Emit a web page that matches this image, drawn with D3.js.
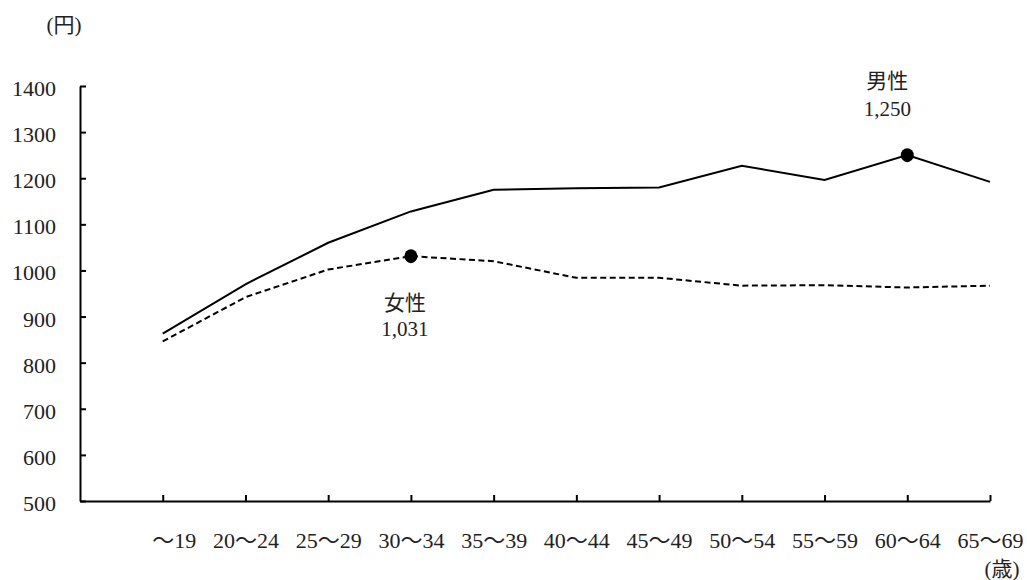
<!DOCTYPE html>
<html>
<head>
<meta charset="utf-8">
<script src="https://cdn.jsdelivr.net/npm/d3@7"></script>
<style>
  html, body { margin: 0; padding: 0; background: #fff; }
  svg text { font-family: "Liberation Serif", "Noto Sans CJK JP", serif; fill: #222; }
</style>
</head>
<body>
<svg id="chart" width="1027" height="580"></svg>
<script>
const categories = ["\u3000〜19", "20〜24", "25〜29", "30〜34", "35〜39", "40〜44", "45〜49", "50〜54", "55〜59", "60〜64", "65〜69"];
const maleValues   = [863, 970, 1060, 1128, 1175, 1178, 1180, 1227, 1196, 1250, 1192];
const femaleValues = [846, 942, 1002, 1031, 1020, 984, 984, 967, 968, 963, 967];
const yTicks = [500, 600, 700, 800, 900, 1000, 1100, 1200, 1300, 1400];
const yUnit = "(円)";
const xUnit = "(歳)";
const maleName = "男性", femaleName = "女性";
const maleLabel = "1,250", femaleLabel = "1,031";
const maleMarkIndex = 9, femaleMarkIndex = 3;

const svg = d3.select("#chart");
const fs = 21;
const tfs = 22;
const fontStack = '"Liberation Serif", "Noto Sans CJK JP", serif';

const x = d3.scalePoint().domain(categories).range([80, 990]).padding(0.5).align(1);
const y = d3.scaleLinear().domain([500, 1400]).range([501, 86]);

// Y axis
const yAxis = svg.append("g").attr("transform", "translate(80,0)")
  .call(d3.axisLeft(y).tickValues(yTicks).tickSize(-6).tickSizeOuter(0).tickPadding(24).tickFormat(d3.format("d")))
  .attr("font-family", fontStack).attr("font-size", tfs);
yAxis.selectAll("path, line").attr("stroke", "#000").attr("stroke-width", 2);
yAxis.selectAll("text").attr("font-size", tfs).attr("dy", "0.43em")
  .style("font-family", fontStack).attr("fill", "#222");

// X axis
const xAxis = svg.append("g").attr("transform", "translate(0,501)")
  .call(d3.axisBottom(x).tickSize(-6).tickSizeOuter(0).tickPadding(31))
  .attr("font-family", fontStack).attr("font-size", tfs);
xAxis.selectAll("path, line").attr("stroke", "#000").attr("stroke-width", 2);
xAxis.selectAll("text").attr("font-size", tfs)
  .style("font-family", fontStack).attr("fill", "#222");

// Lines
const line = d3.line().x((d, i) => x(categories[i])).y(d => y(d));
svg.append("path").datum(maleValues).attr("d", line)
  .attr("fill", "none").attr("stroke", "#000").attr("stroke-width", 2);
svg.append("path").datum(femaleValues).attr("d", line)
  .attr("fill", "none").attr("stroke", "#000").attr("stroke-width", 2).attr("stroke-dasharray", "6,3.5");

// Markers
svg.append("ellipse").attr("cx", x(categories[maleMarkIndex])).attr("cy", y(maleValues[maleMarkIndex]))
  .attr("rx", 6.5).attr("ry", 7).attr("fill", "#000");
svg.append("ellipse").attr("cx", x(categories[femaleMarkIndex])).attr("cy", y(femaleValues[femaleMarkIndex]))
  .attr("rx", 6.5).attr("ry", 7).attr("fill", "#000");

// Annotations
const mx = x(categories[maleMarkIndex]) - 20, my = y(maleValues[maleMarkIndex]);
svg.append("text").attr("x", mx).attr("y", my - 67).attr("text-anchor", "middle").attr("font-size", fs).text(maleName);
svg.append("text").attr("x", mx).attr("y", my - 39).attr("text-anchor", "middle").attr("font-size", fs).text(maleLabel);
const fx = x(categories[femaleMarkIndex]) - 6, fy = y(femaleValues[femaleMarkIndex]);
svg.append("text").attr("x", fx).attr("y", fy + 54).attr("text-anchor", "middle").attr("font-size", fs).text(femaleName);
svg.append("text").attr("x", fx).attr("y", fy + 80).attr("text-anchor", "middle").attr("font-size", fs).text(femaleLabel);

// Units
svg.append("text").attr("x", 64).attr("y", 32).attr("text-anchor", "middle").attr("font-size", fs).text(yUnit);
svg.append("text").attr("x", 1002).attr("y", 576).attr("text-anchor", "middle").attr("font-size", fs).text(xUnit);
</script>
</body>
</html>
